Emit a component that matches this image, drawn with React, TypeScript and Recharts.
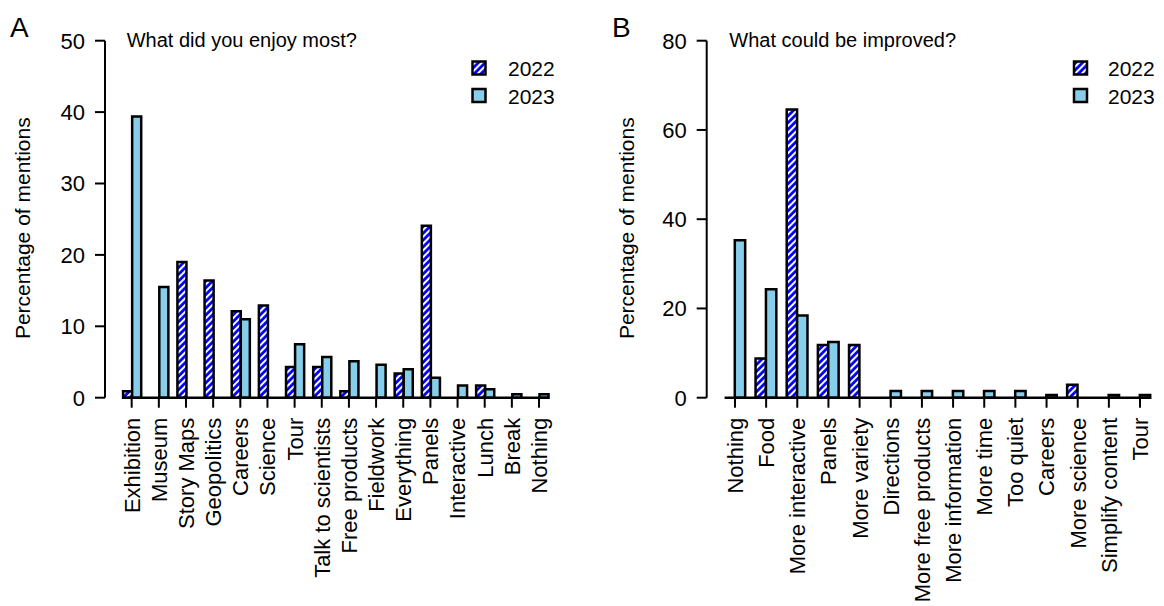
import React from 'react';
import { BarChart, Bar, XAxis, YAxis, ReferenceLine } from 'recharts';

const FONT = '"Liberation Sans", Arial, Helvetica, sans-serif';
const BLUE = '#0000FF';
const SKY = '#87CEEB';

// panel A: what did you enjoy most
const enjoyCats = [
  'Exhibition', 'Museum', 'Story Maps', 'Geopolitics', 'Careers', 'Science', 'Tour',
  'Talk to scientists', 'Free products', 'Fieldwork', 'Everything', 'Panels',
  'Interactive', 'Lunch', 'Break', 'Nothing',
];
const enjoy2022 = [0.9, 0, 19.0, 16.4, 12.1, 12.9, 4.3, 4.3, 0.9, 0, 3.4, 24.1, 0, 1.7, 0, 0];
const enjoy2023 = [39.4, 15.5, 0, 0, 11.0, 0, 7.5, 5.7, 5.1, 4.6, 4.0, 2.8, 1.7, 1.2, 0.5, 0.5];
const enjoyTicks = [0, 10, 20, 30, 40, 50];

// panel B: what could be improved
const improveCats = [
  'Nothing', 'Food', 'More interactive', 'Panels', 'More variety', 'Directions',
  'More free products', 'More information', 'More time', 'Too quiet', 'Careers',
  'More science', 'Simplify content', 'Tour',
];
const improve2022 = [0, 8.8, 64.6, 11.8, 11.8, 0, 0, 0, 0, 0, 0, 2.9, 0, 0];
const improve2023 = [35.3, 24.3, 18.4, 12.5, 0, 1.5, 1.5, 1.5, 1.5, 1.5, 0.6, 0, 0.6, 0.6];
const improveTicks = [0, 20, 40, 60, 80];

const years = ['2022', '2023'];

// pos = slot index of each group, used only by the hidden baseline axis
const toRows = (cats: string[], a: number[], b: number[]) =>
  cats.map((name, i) => ({ name, pos: i + 0.5, y2022: a[i], y2023: b[i] }));

const Hatch = ({ id }: { id: string }) => (
  <pattern id={id} patternUnits="userSpaceOnUse" width={4.8} height={4.8} patternTransform="rotate(45)">
    <rect width={4.8} height={4.8} fill={BLUE} />
    <rect width={2} height={4.8} fill="#fff" />
  </pattern>
);

const XTick = (props: any) => {
  const { x, y, payload } = props;
  return (
    <g transform={`translate(${x},${y})`}>
      <text transform="rotate(-90)" textAnchor="end" dy="0.36em" fontSize={22} fontFamily={FONT} fill="#000">
        {payload.value}
      </text>
    </g>
  );
};

const YTitle = (props: any) => {
  const vb = props.viewBox || { x: 0, y: 40.7, width: 100, height: 357 };
  const cx = vb.x + props.baseX;
  const cy = vb.y + vb.height / 2 + 9;
  return (
    <text
      transform={`translate(${cx},${cy}) rotate(-90)`}
      textAnchor="middle"
      fontSize={21}
      fontFamily={FONT}
      fill="#000"
    >
      {props.text}
    </text>
  );
};

interface PanelProps {
  cats: string[];
  a: number[];
  b: number[];
  ticks: number[];
  width: number;
  yWidth: number;
  right: number;
  pad: number;
  labelX: number;
  hatchId: string;
}

const Panel: React.FC<PanelProps> = ({ cats, a, b, ticks, width, yWidth, right, pad, labelX, hatchId }) => {
  const data = toRows(cats, a, b);
  const n = cats.length;
  const band = (width - yWidth - right - pad) / n;
  const axisStroke = { stroke: '#000', strokeWidth: 2 };
  return (
    <BarChart
      width={width}
      height={606}
      data={data}
      margin={{ top: 40.7, right, bottom: 8.3, left: 0 }}
      barGap={0}
      barSize={band / 3}
    >
      <defs>
        <Hatch id={hatchId} />
      </defs>
      <XAxis
        dataKey="name"
        type="category"
        interval={0}
        height={200}
        padding={{ left: pad, right: 0 }}
        axisLine={false}
        tickLine={axisStroke}
        tickSize={10}
        tickMargin={10}
        tick={<XTick />}
      />
      <XAxis
        xAxisId="base"
        dataKey="pos"
        type="number"
        domain={[0, n]}
        allowDataOverflow
        hide
        padding={{ left: pad, right: 0 }}
      />
      <YAxis
        width={yWidth}
        domain={[0, ticks[ticks.length - 1]]}
        ticks={ticks}
        interval={0}
        axisLine={axisStroke}
        tickLine={axisStroke}
        tickSize={10}
        tickMargin={10}
        tick={{ fill: '#000', fontSize: 22, fontFamily: FONT }}
        label={<YTitle text="Percentage of mentions" baseX={labelX} />}
      />
      <Bar dataKey="y2022" name={years[0]} fill={`url(#${hatchId})`} stroke="#000" strokeWidth={2.5} isAnimationActive={false} />
      <Bar dataKey="y2023" name={years[1]} fill={SKY} stroke="#000" strokeWidth={2.5} isAnimationActive={false} />
      <ReferenceLine
        xAxisId="base"
        segment={[{ x: 1 / 6, y: 0 }, { x: n - 1 / 6, y: 0 }]}
        stroke="#000"
        strokeWidth={2.5}
        ifOverflow="visible"
      />
    </BarChart>
  );
};

const LegendBox = ({ x, textX }: { x: number; textX: number }) => (
  <g fontFamily={FONT} fontSize={21} fill="#000">
    <rect x={x} y={61.5} width={13} height={13} fill="url(#hatchL)" stroke="#000" strokeWidth={2.5} />
    <text x={textX} y={76}>{years[0]}</text>
    <rect x={x} y={89} width={13} height={13} fill={SKY} stroke="#000" strokeWidth={2.5} />
    <text x={textX} y={103.5}>{years[1]}</text>
  </g>
);

export default function App() {
  return (
    <div style={{ position: 'absolute', left: 0, top: 0, width: 1164, height: 606, background: '#fff' }}>
      <div style={{ position: 'absolute', left: 0, top: 0 }}>
        <Panel
          cats={enjoyCats}
          a={enjoy2022}
          b={enjoy2023}
          ticks={enjoyTicks}
          width={580}
          yWidth={105}
          right={27.4}
          pad={13.1}
          labelX={29.5}
          hatchId="hatchA"
        />
      </div>
      <div style={{ position: 'absolute', left: 580, top: 0 }}>
        <Panel
          cats={improveCats}
          a={improve2022}
          b={improve2023}
          ticks={improveTicks}
          width={584}
          yWidth={126.7}
          right={8.4}
          pad={12.7}
          labelX={53.5}
          hatchId="hatchB"
        />
      </div>
      <svg
        width={1164}
        height={606}
        style={{ position: 'absolute', left: 0, top: 0, pointerEvents: 'none' }}
      >
        <defs>
          <Hatch id="hatchL" />
        </defs>
        <text x={10} y={36.7} fontSize={28} fontFamily={FONT} fill="#000">A</text>
        <text x={612} y={36.7} fontSize={28} fontFamily={FONT} fill="#000">B</text>
        <text x={126.7} y={47} fontSize={20} fontFamily={FONT} fill="#000">What did you enjoy most?</text>
        <text x={729.3} y={47} fontSize={20} fontFamily={FONT} fill="#000">What could be improved?</text>
        <LegendBox x={472.5} textX={508} />
        <LegendBox x={1074} textX={1108} />
      </svg>
    </div>
  );
}
